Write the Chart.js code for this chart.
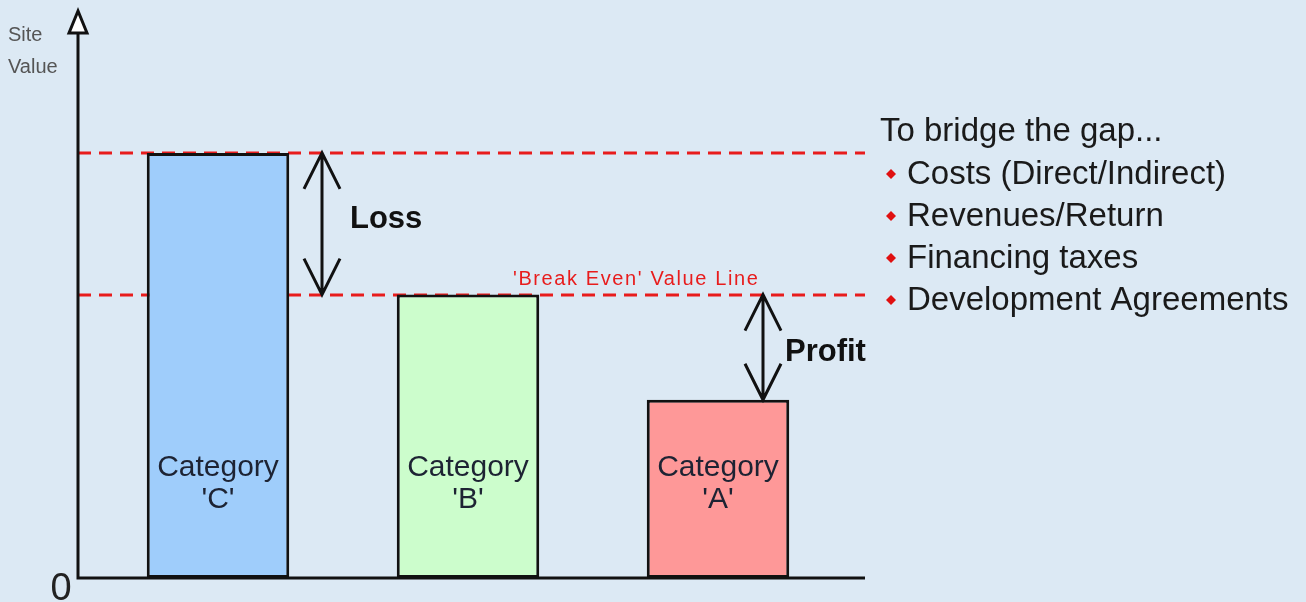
<!DOCTYPE html>
<html>
<head>
<meta charset="utf-8">
<script src="https://cdn.jsdelivr.net/npm/chart.js@4"></script>
<style>
  html, body { margin: 0; padding: 0; background: #dce9f4; }
  #wrap { width: 1306px; height: 602px; }
</style>
</head>
<body>
<div id="wrap"><canvas id="siteChart" width="1306" height="602"></canvas></div>
<script>
  // chart values
  const categories = ["Category 'C'", "Category 'B'", "Category 'A'"];
  const siteValues = [7.8, 5.2, 3.27];
  const barColors = ['#9fcdfb', '#ccfdcc', '#fe9898'];
  const yAxisLabel = ['Site', 'Value'];
  const sideTitle = 'To bridge the gap...';
  const sideBullets = ['Costs (Direct/Indirect)', 'Revenues/Return', 'Financing taxes', 'Development Agreements'];
  const breakEvenLabel = "'Break Even' Value Line";

  const lossValues = [siteValues[0], siteValues[1]];
  const profitValues = [siteValues[1], siteValues[2]];

  function arrow(ctx, x, y1, y2) {
    ctx.save();
    ctx.strokeStyle = '#111';
    ctx.lineWidth = 3;
    ctx.beginPath();
    ctx.moveTo(x, y1);
    ctx.lineTo(x, y2);
    ctx.moveTo(x - 18, y1 + 36);
    ctx.lineTo(x, y1);
    ctx.lineTo(x + 18, y1 + 36);
    ctx.moveTo(x - 18, y2 - 36);
    ctx.lineTo(x, y2);
    ctx.lineTo(x + 18, y2 - 36);
    ctx.stroke();
    ctx.restore();
  }

  const decor = {
    id: 'decor',
    beforeDatasetsDraw(chart) {
      const { ctx, chartArea, scales } = chart;
      const left = chartArea.left - 15;
      const right = chartArea.right + 22;
      ctx.save();
      ctx.strokeStyle = '#e81c1c';
      ctx.lineWidth = 3;
      ctx.setLineDash([13, 8]);
      [siteValues[0], siteValues[1]].forEach(v => {
        const y = Math.round(scales.y.getPixelForValue(v));
        ctx.beginPath();
        ctx.moveTo(left, y);
        ctx.lineTo(right, y);
        ctx.stroke();
      });
      ctx.restore();
    },
    afterDatasetsDraw(chart) {
      const { ctx, chartArea, scales } = chart;
      const meta = chart.getDatasetMeta(0);
      const left = chartArea.left - 15;
      const right = chartArea.right + 22;
      const bottom = scales.y.getPixelForValue(0);

      // axes
      ctx.save();
      ctx.strokeStyle = '#111';
      ctx.lineWidth = 3;
      ctx.beginPath();
      ctx.moveTo(left, chartArea.top);
      ctx.lineTo(left, bottom);
      ctx.lineTo(right, bottom);
      ctx.stroke();
      ctx.fillStyle = '#fff';
      ctx.lineJoin = 'miter';
      ctx.beginPath();
      ctx.moveTo(left, chartArea.top - 22);
      ctx.lineTo(left - 9, chartArea.top);
      ctx.lineTo(left + 9, chartArea.top);
      ctx.closePath();
      ctx.fill();
      ctx.stroke();
      ctx.restore();

      // category labels inside bars
      ctx.save();
      ctx.fillStyle = '#1d2333';
      ctx.font = '30px "Liberation Sans", Arial, sans-serif';
      ctx.textAlign = 'center';
      ctx.textBaseline = 'middle';
      meta.data.forEach((bar, i) => {
        const parts = categories[i].split(' ');
        ctx.fillText(parts[0], bar.x, 468);
        ctx.fillText(parts[1], bar.x, 500);
      });
      ctx.restore();

      // loss / profit arrows
      const barC = meta.data[0];
      const barA = meta.data[2];
      const lossX = barC.x + 104;
      const profitX = barA.x + 45;
      arrow(ctx, lossX, scales.y.getPixelForValue(lossValues[0]), scales.y.getPixelForValue(lossValues[1]));
      arrow(ctx, profitX, scales.y.getPixelForValue(profitValues[0]), scales.y.getPixelForValue(profitValues[1]));

      ctx.save();
      ctx.fillStyle = '#111';
      ctx.font = 'bold 31px "Liberation Sans", Arial, sans-serif';
      ctx.textBaseline = 'middle';
      ctx.fillText('Loss', lossX + 28, (scales.y.getPixelForValue(lossValues[0]) + scales.y.getPixelForValue(lossValues[1])) / 2 - 4);
      ctx.fillText('Profit', profitX + 22, (scales.y.getPixelForValue(profitValues[0]) + scales.y.getPixelForValue(profitValues[1])) / 2 + 5);

      // break even label
      ctx.fillStyle = '#e81c1c';
      ctx.font = '20px "Liberation Sans", Arial, sans-serif';
      ctx.letterSpacing = '1.6px';
      ctx.textBaseline = 'alphabetic';
      ctx.fillText(breakEvenLabel, 513, scales.y.getPixelForValue(siteValues[1]) - 10);
      ctx.letterSpacing = '0px';

      // y axis caption and zero
      ctx.fillStyle = '#555';
      ctx.font = '20px "Liberation Sans", Arial, sans-serif';
      ctx.textBaseline = 'middle';
      ctx.fillText(yAxisLabel[0], 8, 35);
      ctx.fillText(yAxisLabel[1], 8, 67);
      ctx.fillStyle = '#222';
      ctx.font = '38px "Liberation Sans", Arial, sans-serif';
      ctx.textAlign = 'center';
      ctx.textBaseline = 'alphabetic';
      ctx.fillText('0', 61, 600);

      // side notes
      ctx.textAlign = 'left';
      ctx.textBaseline = 'middle';
      ctx.font = '33px "Liberation Sans", Arial, sans-serif';
      ctx.fillStyle = '#1a1a1a';
      ctx.fillText(sideTitle, 880, 132);
      sideBullets.forEach((t, i) => {
        const y = 175 + i * 42;
        ctx.fillStyle = '#e01010';
        ctx.beginPath();
        ctx.moveTo(891, y - 6);
        ctx.lineTo(896, y - 1);
        ctx.lineTo(891, y + 4);
        ctx.lineTo(886, y - 1);
        ctx.closePath();
        ctx.fill();
        ctx.fillStyle = '#1a1a1a';
        ctx.fillText(t, 907, y);
      });
      ctx.restore();
    }
  };

  new Chart(document.getElementById('siteChart'), {
    type: 'bar',
    data: {
      labels: categories,
      datasets: [{
        data: siteValues,
        backgroundColor: barColors,
        borderColor: '#111',
        borderWidth: 3,
        borderSkipped: false,
        categoryPercentage: 1,
        barPercentage: 0.57
      }]
    },
    options: {
      responsive: false,
      animation: false,
      layout: { padding: { left: 93, right: 463, top: 33, bottom: 24 } },
      plugins: { legend: { display: false }, tooltip: { enabled: false } },
      scales: {
        x: { display: false },
        y: { display: false, min: 0, max: 10 }
      }
    },
    plugins: [decor]
  });
</script>
</body>
</html>
